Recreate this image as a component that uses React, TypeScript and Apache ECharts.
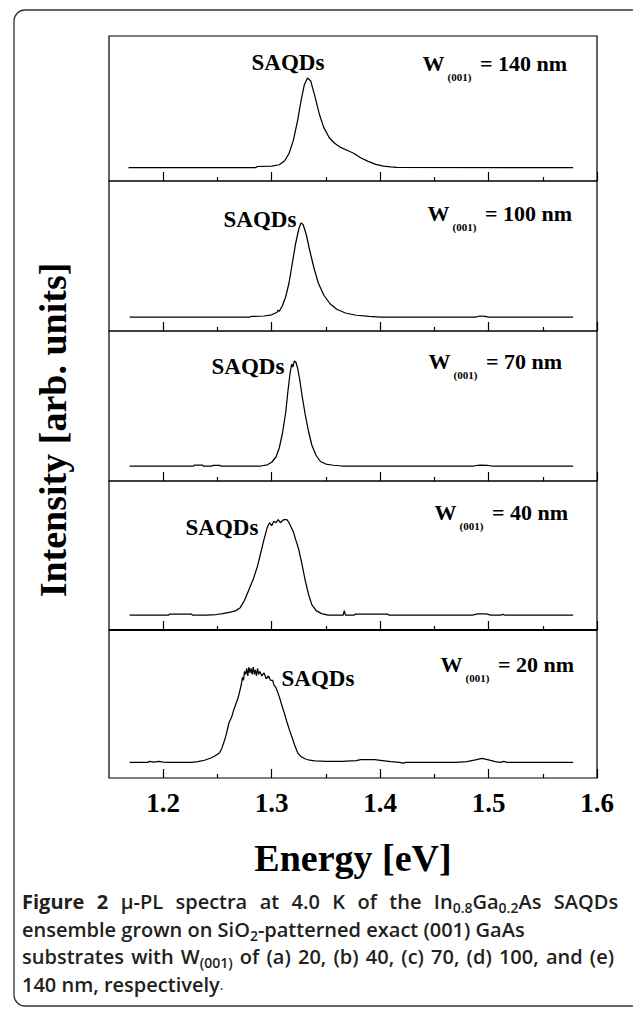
import React, { useEffect, useRef } from "react";
import * as echarts from "echarts";

// ---------- data ----------
const ENERGY_MIN = 1.15;
const ENERGY_MAX = 1.6;
const MAJOR_TICKS = [1.2, 1.3, 1.4, 1.5, 1.6];
const MINOR_TICKS = [1.25, 1.35, 1.45, 1.55];
const TICK_LABELS = ["1.2", "1.3", "1.4", "1.5", "1.6"];
const WIDTHS_NM = ["140", "100", "70", "40", "20"]; // W(001), top to bottom

// [energy (eV), intensity (arb.)]
const PL_140NM: [number, number][] = [
  [1.168, 0.092], [1.285, 0.092], [1.287, 0.1], [1.3, 0.102], [1.307, 0.112], [1.312, 0.14],
  [1.316, 0.19], [1.32, 0.28], [1.324, 0.42], [1.327, 0.55], [1.33, 0.66], [1.333, 0.71],
  [1.336, 0.69], [1.34, 0.58], [1.344, 0.46], [1.348, 0.37], [1.353, 0.3], [1.358, 0.26],
  [1.364, 0.23], [1.37, 0.21], [1.376, 0.19], [1.382, 0.16], [1.389, 0.135], [1.396, 0.115],
  [1.403, 0.103], [1.41, 0.097], [1.415, 0.094], [1.578, 0.092],
];

const PL_100NM: [number, number][] = [
  [1.169, 0.093], [1.28, 0.093], [1.281, 0.097], [1.293, 0.1], [1.3, 0.108], [1.305, 0.125],
  [1.306, 0.14], [1.307, 0.13], [1.31, 0.17], [1.313, 0.23], [1.316, 0.32], [1.319, 0.45],
  [1.322, 0.58], [1.325, 0.68], [1.327, 0.72], [1.329, 0.71], [1.332, 0.64], [1.335, 0.54],
  [1.339, 0.42], [1.343, 0.32], [1.348, 0.24], [1.354, 0.18], [1.36, 0.145], [1.368, 0.12],
  [1.378, 0.105], [1.39, 0.097], [1.4, 0.093], [1.488, 0.093], [1.492, 0.1], [1.497, 0.097],
  [1.5, 0.093], [1.578, 0.093],
];

const PL_70NM: [number, number][] = [
  [1.169, 0.1], [1.228, 0.1], [1.229, 0.106], [1.236, 0.106], [1.237, 0.1], [1.245, 0.1],
  [1.246, 0.105], [1.252, 0.105], [1.253, 0.1], [1.29, 0.1], [1.296, 0.108], [1.3, 0.125],
  [1.304, 0.16], [1.307, 0.22], [1.31, 0.32], [1.313, 0.46], [1.315, 0.6], [1.317, 0.72],
  [1.3185, 0.78], [1.3195, 0.76], [1.321, 0.8], [1.3225, 0.79], [1.324, 0.75], [1.326, 0.67],
  [1.328, 0.57], [1.331, 0.44], [1.334, 0.33], [1.337, 0.24], [1.341, 0.17], [1.345, 0.13],
  [1.35, 0.113], [1.357, 0.105], [1.365, 0.1], [1.486, 0.1], [1.492, 0.106], [1.499, 0.104],
  [1.503, 0.1], [1.578, 0.1],
];

const PL_40NM: [number, number][] = [
  [1.169, 0.1], [1.205, 0.1], [1.206, 0.107], [1.226, 0.107], [1.227, 0.1], [1.24, 0.1],
  [1.249, 0.104], [1.255, 0.11], [1.262, 0.12], [1.267, 0.13], [1.271, 0.15], [1.275, 0.2],
  [1.279, 0.27], [1.283, 0.34], [1.287, 0.43], [1.29, 0.52], [1.293, 0.61], [1.296, 0.69],
  [1.298, 0.72], [1.3, 0.7], [1.302, 0.73], [1.304, 0.72], [1.306, 0.74], [1.308, 0.72],
  [1.311, 0.74], [1.314, 0.74], [1.316, 0.72], [1.318, 0.69], [1.32, 0.66], [1.322, 0.61],
  [1.325, 0.54], [1.328, 0.44], [1.331, 0.33], [1.334, 0.24], [1.337, 0.17], [1.341, 0.13],
  [1.346, 0.11], [1.352, 0.1], [1.366, 0.1], [1.367, 0.13], [1.368, 0.1], [1.376, 0.1],
  [1.377, 0.106], [1.407, 0.106], [1.408, 0.1], [1.485, 0.1], [1.49, 0.108], [1.498, 0.108],
  [1.502, 0.1], [1.512, 0.1], [1.513, 0.106], [1.515, 0.1], [1.578, 0.1],
];

const PL_20NM: [number, number][] = [
  [1.169, 0.106], [1.186, 0.106], [1.187, 0.112], [1.192, 0.108], [1.196, 0.113], [1.2, 0.108],
  [1.204, 0.106], [1.226, 0.106], [1.232, 0.11], [1.238, 0.12], [1.244, 0.135], [1.248, 0.15],
  [1.252, 0.17], [1.254, 0.2], [1.2557, 0.236], [1.258, 0.29], [1.2605, 0.37], [1.263, 0.41],
  [1.265, 0.46], [1.267, 0.5], [1.269, 0.54], [1.27, 0.57], [1.272, 0.63], [1.273, 0.68],
  [1.274, 0.66], [1.275, 0.72], [1.276, 0.7], [1.277, 0.74], [1.278, 0.69], [1.279, 0.75],
  [1.28, 0.71], [1.281, 0.74], [1.282, 0.7], [1.283, 0.75], [1.284, 0.7], [1.285, 0.73],
  [1.286, 0.69], [1.287, 0.74], [1.288, 0.7], [1.289, 0.72], [1.291, 0.69], [1.293, 0.71],
  [1.295, 0.67], [1.297, 0.69], [1.299, 0.66], [1.301, 0.66], [1.302, 0.63], [1.304, 0.61],
  [1.306, 0.57], [1.307, 0.55], [1.309, 0.5], [1.3116, 0.44], [1.314, 0.38], [1.3166, 0.32],
  [1.319, 0.27], [1.3213, 0.22], [1.324, 0.17], [1.327, 0.145], [1.3306, 0.13], [1.335, 0.12],
  [1.34, 0.115], [1.35, 0.113], [1.365, 0.112], [1.378, 0.118], [1.382, 0.124], [1.395, 0.124],
  [1.402, 0.118], [1.41, 0.11], [1.418, 0.106], [1.421, 0.1], [1.424, 0.106], [1.47, 0.106],
  [1.48, 0.11], [1.488, 0.122], [1.494, 0.132], [1.5, 0.122], [1.506, 0.11], [1.511, 0.106],
  [1.514, 0.112], [1.517, 0.106], [1.578, 0.106],
];

const SPECTRA = [PL_140NM, PL_100NM, PL_70NM, PL_40NM, PL_20NM];

// caption words (rich-text tokens), one list per printed line
const CAPTION_LINE1 = [
  "{f|Figure}", "{f|2}", "{b|μ-PL}", "{b|spectra}", "{b|at}", "{b|4.0}", "{b|K}", "{b|of}", "{b|the}",
  "{b|In}{sub|0.8}{b|Ga}{sub|0.2}{b|As}", "{b|SAQDs}",
];
const CAPTION_LINE2 = [
  "{b|ensemble}", "{b|grown}", "{b|on}", "{b|SiO}{sub|2}{b|-patterned}", "{b|exact}", "{b|(001)}", "{b|GaAs}",
];
const CAPTION_LINE3 = [
  "{b|substrates}", "{b|with}", "{b|W}{sub|(001)}", "{b|of}", "{b|(a)}", "{b|20,}", "{b|(b)}", "{b|40,}",
  "{b|(c)}", "{b|70,}", "{b|(d)}", "{b|100,}", "{b|and}", "{b|(e)}",
];
const CAPTION_LINE4 = ["{b|140}", "{b|nm,}", "{b|respectively}{r|.}"];

// ---------- layout ----------
const W = 633;
const H = 1009;
const PLOT_LEFT = 109;
const PLOT_WIDTH = 488;
const PANEL_TOPS = [36, 181, 331, 481, 630];
const PANEL_HEIGHTS = [145, 150, 150, 149, 148];
const SAQD_POS = [[288, 62], [260, 219], [248, 366], [222, 527], [318, 678]];
const WLABEL_POS = [[567, 62], [572, 212], [562, 360], [568, 511], [574, 663]];

const SERIF = "'Liberation Serif', 'Times New Roman', serif";
const SANS = "'Open Sans', 'Noto Sans', sans-serif";

function buildOption(): any {
  const grids: any[] = [];
  const xAxes: any[] = [];
  const yAxes: any[] = [];
  const series: any[] = [];
  const graphics: any[] = [];

  SPECTRA.forEach((data, i) => {
    grids.push({
      left: PLOT_LEFT,
      width: PLOT_WIDTH,
      top: PANEL_TOPS[i],
      height: PANEL_HEIGHTS[i],
      show: true,
      borderColor: "#000",
      borderWidth: 1.2,
      backgroundColor: "transparent",
      containLabel: false,
      outerBoundsMode: "none",
    });
    const isBottom = i === SPECTRA.length - 1;
    xAxes.push({
      gridIndex: i,
      type: "value",
      position: "bottom",
      min: ENERGY_MIN,
      max: ENERGY_MAX,
      axisLine: { show: false, onZero: false },
      splitLine: { show: false },
      axisTick: {
        show: true,
        inside: true,
        length: 9,
        customValues: MAJOR_TICKS,
        lineStyle: { color: "#000", width: 1.2 },
      },
      axisLabel: {
        show: isBottom,
        customValues: MAJOR_TICKS,
        formatter: (v: number) =>
          TICK_LABELS[MAJOR_TICKS.findIndex((t) => Math.abs(t - v) < 1e-6)] ?? v.toFixed(1),
        fontFamily: SERIF,
        fontWeight: "bold",
        fontSize: 27,
        color: "#000",
        margin: 11,
        hideOverlap: false,
      },
    });
    xAxes.push({
      gridIndex: i,
      type: "value",
      position: "bottom",
      min: ENERGY_MIN,
      max: ENERGY_MAX,
      axisLine: { show: false, onZero: false },
      splitLine: { show: false },
      axisTick: {
        show: true,
        inside: true,
        length: 4,
        customValues: MINOR_TICKS,
        lineStyle: { color: "#000", width: 1.2 },
      },
      axisLabel: { show: false },
    });
    yAxes.push({ gridIndex: i, type: "value", min: 0, max: 1, show: false });
    series.push({
      type: "line",
      xAxisIndex: 2 * i,
      yAxisIndex: i,
      data,
      symbol: "none",
      showSymbol: false,
      silent: true,
      lineStyle: { color: "#000", width: 1.25 },
    });

    graphics.push({
      type: "text",
      x: SAQD_POS[i][0],
      y: SAQD_POS[i][1],
      style: {
        text: "SAQDs",
        fill: "#000",
        fontFamily: SERIF,
        fontWeight: "bold",
        fontSize: 23,
        textAlign: "center",
        textVerticalAlign: "middle",
      },
    });
    graphics.push({
      type: "text",
      x: WLABEL_POS[i][0],
      y: WLABEL_POS[i][1] + 3,
      style: {
        text: `{w|W}{s|(001)}{t| = ${WIDTHS_NM[i]} nm}`,
        textAlign: "right",
        textVerticalAlign: "middle",
        rich: {
          w: { fill: "#000", fontFamily: SERIF, fontWeight: "bold", fontSize: 22, lineHeight: 26, verticalAlign: "top" },
          s: { fill: "#000", fontFamily: SERIF, fontWeight: "bold", fontSize: 11, lineHeight: 13, padding: [19, 3, 0, 3], verticalAlign: "top" },
          t: { fill: "#000", fontFamily: SERIF, fontWeight: "bold", fontSize: 22, lineHeight: 26, verticalAlign: "top" },
        },
      },
    });
  });

  // thicker divider between the two lowest panels
  graphics.push({
    type: "line",
    shape: { x1: PLOT_LEFT, y1: PANEL_TOPS[4], x2: PLOT_LEFT + PLOT_WIDTH, y2: PANEL_TOPS[4] },
    style: { stroke: "#000", lineWidth: 2.2 },
  });

  // outer rounded frame
  graphics.push({
    type: "rect",
    shape: { x: 14, y: 10, width: 629, height: 996, r: 11 },
    style: { fill: "none", stroke: "#333", lineWidth: 1.3 },
  });

  // axis titles
  graphics.push({
    type: "text",
    x: 53,
    y: 430,
    rotation: Math.PI / 2,
    style: {
      text: "Intensity [arb. units]",
      fill: "#000",
      fontFamily: SERIF,
      fontWeight: "bold",
      fontSize: 38,
      textAlign: "center",
      textVerticalAlign: "middle",
    },
  });
  graphics.push({
    type: "text",
    x: 353,
    y: 858,
    style: {
      text: "Energy [eV]",
      fill: "#000",
      fontFamily: SERIF,
      fontWeight: "bold",
      fontSize: 38,
      textAlign: "center",
      textVerticalAlign: "middle",
    },
  });

  // caption (lines 1 and 3 are justified in the original)
  const capBase = { fill: "#231f20", fontFamily: SANS, fontSize: 20, lineHeight: 27.5, verticalAlign: "middle" };
  const capLines = [
    CAPTION_LINE1.join("{g1| }"),
    CAPTION_LINE2.join("{g0| }"),
    CAPTION_LINE3.join("{g3| }"),
    CAPTION_LINE4.join("{g0| }"),
  ];
  const capRich = {
    f: { ...capBase, fontWeight: "bold" },
    b: { ...capBase, fontWeight: 600 },
    g0: { ...capBase, fontWeight: 600, width: 5.2 },
    g1: { ...capBase, fontWeight: 600, width: 12.4 },
    g3: { ...capBase, fontWeight: 600, width: 7.2 },
    sub: {
      fill: "#231f20", fontFamily: SANS, fontWeight: 600, fontSize: 14, lineHeight: 14,
      padding: [11, 0, 1, 0], verticalAlign: "bottom",
    },
    r: { ...capBase, fontWeight: "normal", fontSize: 14 },
  };
  capLines.forEach((line, k) => {
    graphics.push({
      type: "text",
      x: 22,
      y: 888 + k * 27.5,
      style: {
        text: line,
        textAlign: "left",
        textVerticalAlign: "top",
        rich: capRich,
      },
    });
  });

  return {
    animation: false,
    backgroundColor: "#fff",
    grid: grids,
    xAxis: xAxes,
    yAxis: yAxes,
    series,
    graphic: graphics,
  };
}

export default function App() {
  const ref = useRef<HTMLDivElement>(null);
  useEffect(() => {
    if (!ref.current) return;
    const chart = echarts.init(ref.current, null, { renderer: "svg", width: W, height: H });
    chart.setOption(buildOption());
    return () => chart.dispose();
  }, []);
  return <div ref={ref} style={{ position: "absolute", left: 0, top: 0, width: W, height: H }} />;
}
